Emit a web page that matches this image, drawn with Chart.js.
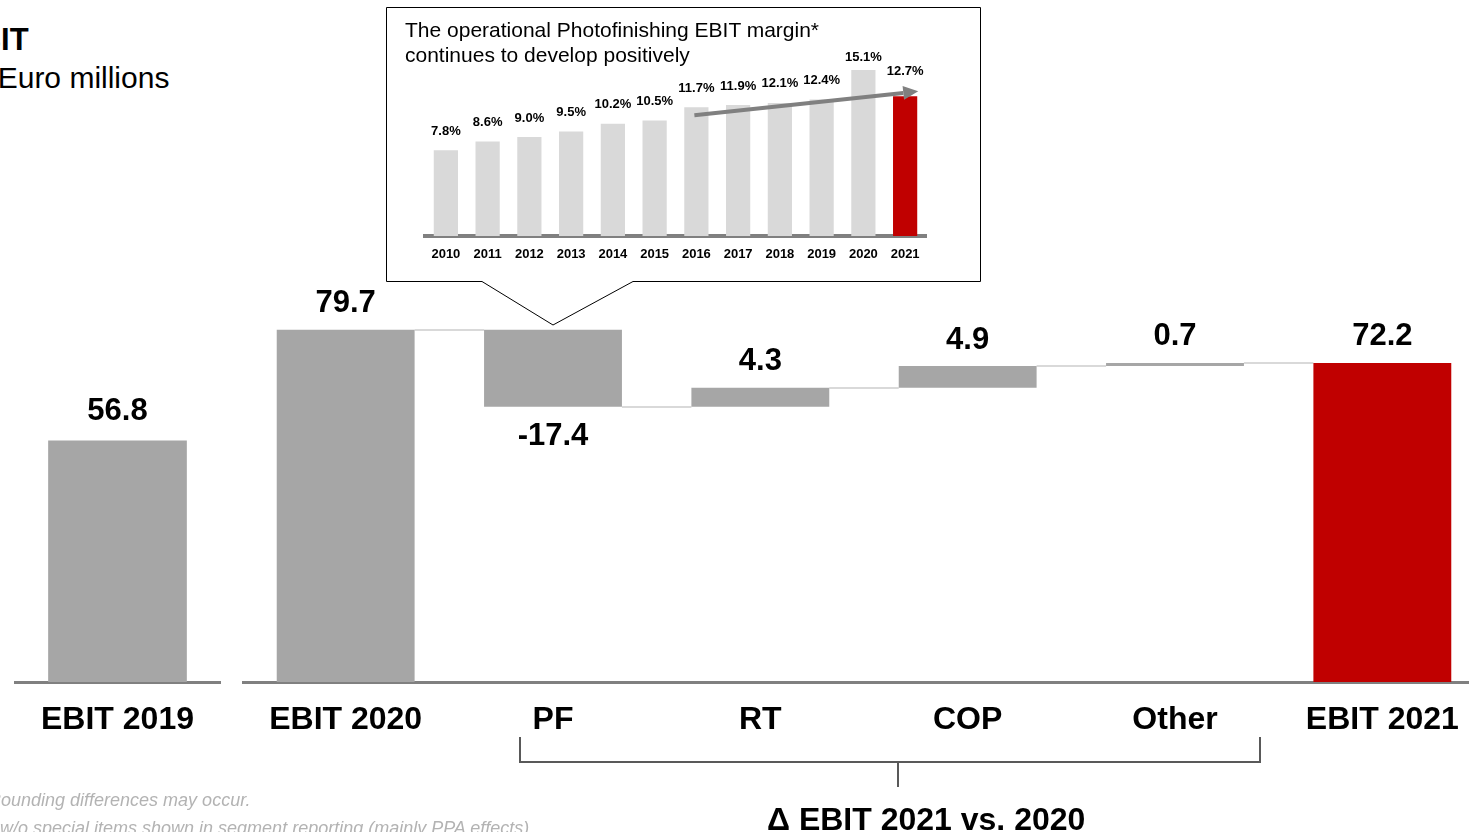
<!DOCTYPE html>
<html>
<head>
<meta charset="utf-8">
<title>EBIT bridge 2020 to 2021</title>
<script src="https://cdn.jsdelivr.net/npm/chart.js@4.4.1/dist/chart.umd.min.js"></script>
<style>
  body { margin: 0; width: 1469px; height: 832px; overflow: hidden; background: #fff; position: relative;
         font-family: Arial, "Liberation Sans", sans-serif; }
  canvas, svg, .txt { position: absolute; }
  .txt { white-space: nowrap; line-height: 1; color: #000; }
  .note { color: #b3b3b3; font-style: italic; font-size: 18px; }
</style>
</head>
<body>
<div class="txt" style="left:-42px; top:24px; font-size:31px; font-weight:bold;">EBIT</div>
<div class="txt" style="left:-34px; top:63px; font-size:30px;">in Euro millions</div>

<canvas id="prior" width="207" height="832" style="left:14px; top:0;"></canvas>
<canvas id="bridge" width="1244" height="832" style="left:242px; top:0;"></canvas>

<!-- callout frame pointing at the PF bar -->
<svg width="1469" height="832" style="left:0; top:0; pointer-events:none;">
  <polygon points="386.5,7.5 980.5,7.5 980.5,281.5 633,281.5 553,325 482,281.5 386.5,281.5"
           fill="#fff" stroke="#000" stroke-width="1"/>
  <!-- bracket under the segment deltas -->
  <path d="M520 737 V762 H1260 V737 M898 762 V787" fill="none" stroke="#595959" stroke-width="2"/>
</svg>
<div class="txt" style="left:405px; top:17px; font-size:21px; line-height:25px;">The operational Photofinishing EBIT margin*<br>continues to develop positively</div>
<canvas id="margin" width="594" height="274" style="left:386px; top:7px;"></canvas>

<div class="txt" style="left:767px; top:803px; font-size:32px; font-weight:bold;">Δ EBIT 2021 vs. 2020</div>
<div class="txt note" style="left:-12px; top:791px;">Rounding differences may occur.</div>
<div class="txt note" style="left:-12px; top:819px;">* w/o special items shown in segment reporting (mainly PPA effects)</div>

<script>
// EBIT, Euro millions
const priorLabels = ['EBIT 2019'];
const priorValues = [56.8];
const startLabel = 'EBIT 2020';
const startValue = 79.7;
const segmentLabels = ['PF', 'RT', 'COP', 'Other'];
const segmentDeltas = [-17.4, 4.3, 4.9, 0.7];
const endLabel = 'EBIT 2021';
const endValue = 72.2;

// operational Photofinishing EBIT margin, %
const marginYears = ['2010', '2011', '2012', '2013', '2014', '2015', '2016', '2017', '2018', '2019', '2020', '2021'];
const marginValues = [7.8, 8.6, 9.0, 9.5, 10.2, 10.5, 11.7, 11.9, 12.1, 12.4, 15.1, 12.7];

const FONT = 'Arial, "Liberation Sans", sans-serif';
const GREY = '#a6a6a6';
const RED = '#c00000';

// floating ranges for the bridge: start total, running deltas, end total
const bridgeLabels = [startLabel, ...segmentLabels, endLabel];
const bridgeRanges = [[0, startValue]];
const levels = [startValue];
const valueTexts = [startValue.toFixed(1)];
let level = startValue;
segmentDeltas.forEach(d => {
  const next = level + d;
  bridgeRanges.push([Math.min(level, next), Math.max(level, next)]);
  levels.push(next);
  valueTexts.push(d.toFixed(1));
  level = next;
});
bridgeRanges.push([0, endValue]);
levels.push(endValue);
valueTexts.push(endValue.toFixed(1));
const bridgeColors = bridgeLabels.map((l, i) => i === bridgeLabels.length - 1 ? RED : GREY);

function drawValue(ctx, text, x, y, size) {
  ctx.fillStyle = '#000';
  ctx.font = 'bold ' + size + 'px ' + FONT;
  ctx.textAlign = 'center';
  ctx.textBaseline = 'middle';
  ctx.fillText(text, x, y);
}

const bridgeDecor = {
  id: 'bridgeDecor',
  beforeDatasetsDraw(chart) {
    const ctx = chart.ctx;
    const bars = chart.getDatasetMeta(0).data;
    const y = chart.scales.y;
    ctx.save();
    ctx.strokeStyle = '#d9d9d9';
    ctx.lineWidth = 2;
    for (let i = 0; i < bars.length - 1; i++) {
      const py = Math.round(y.getPixelForValue(levels[i]));
      ctx.beginPath();
      ctx.moveTo(bars[i].x + bars[i].width / 2, py);
      ctx.lineTo(bars[i + 1].x - bars[i + 1].width / 2, py);
      ctx.stroke();
    }
    ctx.restore();
  },
  afterDatasetsDraw(chart) {
    const ctx = chart.ctx;
    const bars = chart.getDatasetMeta(0).data;
    ctx.save();
    bars.forEach((bar, i) => {
      const isDrop = i > 0 && i <= segmentDeltas.length && segmentDeltas[i - 1] < 0;
      if (isDrop) drawValue(ctx, valueTexts[i], bar.x, bar.base + 30, 31);
      else drawValue(ctx, valueTexts[i], bar.x, Math.min(bar.y, bar.base) - 26, 31);
    });
    ctx.restore();
  }
};

const priorDecor = {
  id: 'priorDecor',
  afterDatasetsDraw(chart) {
    const ctx = chart.ctx;
    ctx.save();
    chart.getDatasetMeta(0).data.forEach((bar, i) => {
      drawValue(ctx, priorValues[i].toFixed(1), bar.x, bar.y - 29, 31);
    });
    ctx.restore();
  }
};

function baseScales(yMax) {
  return {
    x: {
      grid: { display: false, drawTicks: false },
      border: { display: true, color: '#808080', width: 3 },
      ticks: { color: '#000', font: { family: FONT, size: 32, weight: 'bold' }, padding: 19, maxRotation: 0, autoSkip: false },
      afterFit(scale) { scale.height = 150; }
    },
    y: { display: false, min: 0, max: yMax }
  };
}

const commonOptions = {
  responsive: false,
  animation: false,
  devicePixelRatio: 1,
  plugins: { legend: { display: false }, tooltip: { enabled: false } }
};

new Chart(document.getElementById('prior'), {
  type: 'bar',
  data: {
    labels: priorLabels,
    datasets: [{ data: priorValues, backgroundColor: GREY, borderWidth: 0, barPercentage: 1, categoryPercentage: 0.67 }]
  },
  options: { ...commonOptions, layout: { padding: { top: 240, left: 0, right: 0, bottom: 0 } }, scales: baseScales(104) },
  plugins: [priorDecor]
});

new Chart(document.getElementById('bridge'), {
  type: 'bar',
  data: {
    labels: bridgeLabels,
    datasets: [{ data: bridgeRanges, backgroundColor: bridgeColors, borderWidth: 0, barPercentage: 1, categoryPercentage: 0.665 }]
  },
  options: { ...commonOptions, layout: { padding: { top: 240, left: 0, right: 0, bottom: 0 } }, scales: baseScales(100) },
  plugins: [bridgeDecor]
});

// inset: margin labels and the trend arrow from 2016 to 2021
const marginDecor = {
  id: 'marginDecor',
  afterDatasetsDraw(chart) {
    const ctx = chart.ctx;
    const bars = chart.getDatasetMeta(0).data;
    const y = chart.scales.y;
    const last = bars.length - 1;
    ctx.save();
    bars.forEach((bar, i) => {
      // the peak label sits tight under the heading, the final one clears the arrow
      let lift = 19;
      if (i === last - 1) lift = 12;
      if (i === last) lift = 25;
      drawValue(ctx, marginValues[i].toFixed(1) + '%', bar.x, bar.y - lift, 13);
    });
    const from = bars[6], to = bars[last];
    const x0 = from.x - 2, y0 = y.getPixelForValue(marginValues[6]) + 8;
    const x1 = to.x + to.width / 2 + 1, y1 = y.getPixelForValue(marginValues[last]) - 5;
    const ang = Math.atan2(y1 - y0, x1 - x0);
    const head = 15, half = 7;
    const bx = x1 - head * Math.cos(ang), by = y1 - head * Math.sin(ang);
    ctx.strokeStyle = '#808080';
    ctx.fillStyle = '#808080';
    ctx.lineWidth = 4;
    ctx.beginPath();
    ctx.moveTo(x0, y0);
    ctx.lineTo(bx, by);
    ctx.stroke();
    ctx.beginPath();
    ctx.moveTo(x1, y1);
    ctx.lineTo(bx + half * Math.sin(ang), by - half * Math.cos(ang));
    ctx.lineTo(bx - half * Math.sin(ang), by + half * Math.cos(ang));
    ctx.closePath();
    ctx.fill();
    ctx.restore();
  }
};

new Chart(document.getElementById('margin'), {
  type: 'bar',
  data: {
    labels: marginYears,
    datasets: [{
      data: marginValues,
      backgroundColor: marginYears.map((yr, i) => i === marginYears.length - 1 ? RED : '#d9d9d9'),
      borderWidth: 0, barPercentage: 1, categoryPercentage: 0.58
    }]
  },
  options: {
    ...commonOptions,
    layout: { padding: { top: 53, left: 39, right: 54, bottom: 0 } },
    scales: {
      x: {
        grid: { display: false, drawTicks: false },
        border: { display: true, color: '#808080', width: 4 },
        ticks: { color: '#000', font: { family: FONT, size: 13, weight: 'bold' }, padding: 11, maxRotation: 0, autoSkip: false },
        afterFit(scale) { scale.height = 45; }
      },
      y: { display: false, min: 0, max: 16 }
    }
  },
  plugins: [marginDecor]
});
</script>
</body>
</html>
